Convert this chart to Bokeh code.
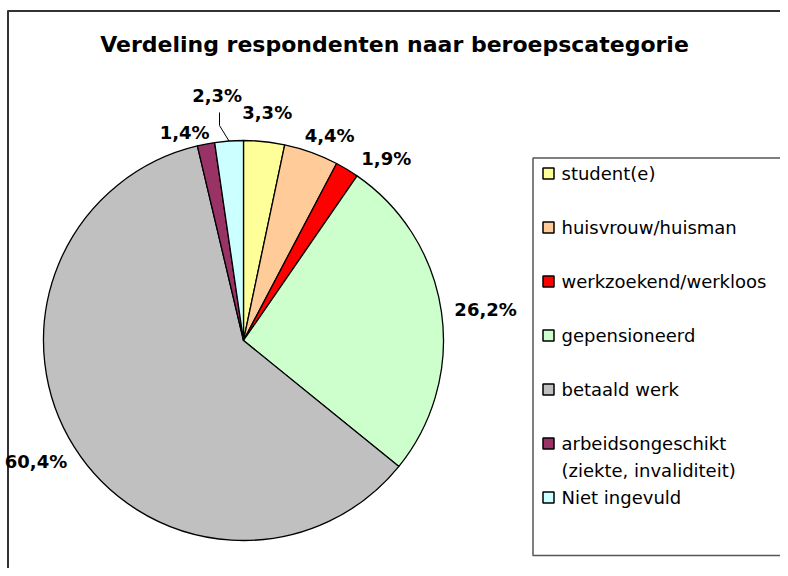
import math
from bokeh.plotting import figure
from bokeh.models import Range1d, ColumnDataSource
from bokeh.core.properties import value
from bokeh.embed import file_html
from bokeh.resources import INLINE

# ---- data ----
categories = ["student(e)", "huisvrouw/huisman", "werkzoekend/werkloos",
              "gepensioneerd", "betaald werk",
              "arbeidsongeschikt\n(ziekte, invaliditeit)", "Niet ingevuld"]
percentages = [3.3, 4.4, 1.9, 26.2, 60.4, 1.4, 2.3]
colors = ["#FFFF99", "#FFCC99", "#FF0000", "#CCFFCC", "#C0C0C0", "#993366", "#CCFFFF"]
title_text = "Verdeling respondenten naar beroepscategorie"

# ---- layout (screen pixel helpers) ----
W, H = 780, 568
def sx(x):
    return x
def sy(y):
    return H - y

p = figure(width=W, height=H, output_backend="svg", toolbar_location=None,
           x_range=Range1d(0, W), y_range=Range1d(0, H), min_border=0)
p.axis.visible = False
p.grid.visible = False
p.outline_line_color = None
p.background_fill_color = "white"

FONT = "DejaVu Sans"

# outer chart border (left and top visible)
p.segment(x0=[sx(7.5), sx(7)], y0=[sy(10), sy(10.5)],
          x1=[sx(7.5), sx(W)], y1=[sy(H), sy(10.5)],
          line_color="#333333", line_width=2)

# title
p.text(x=[sx(394)], y=[sy(44)], text=[title_text], text_font=value(FONT),
       text_font_style="bold", text_font_size="22px", text_align="center",
       text_baseline="middle", text_color="black")

# pie
cx, cy, r = 243, 340, 200
total = sum(percentages)
starts, ends, mids = [], [], []
cum = 0.0
for v in percentages:
    a0 = cum / total
    cum += v
    a1 = cum / total
    starts.append(math.pi / 2 - 2 * math.pi * a0)
    ends.append(math.pi / 2 - 2 * math.pi * a1)
    mids.append(2 * math.pi * (a0 + a1) / 2)  # clockwise from top
src = ColumnDataSource(dict(start=starts, end=ends, color=colors))
p.wedge(x=sx(cx), y=sy(cy), radius=r, start_angle="start", end_angle="end",
        direction="clock", fill_color="color", line_color="black", line_width=1.3,
        source=src)

# data labels
label_r = [229, 222, 231, 244, 240, 216, 246]
label_da = [0, 3, 7, 1, 2, -5, -2]
lx, ly, lt = [], [], []
for i, v in enumerate(percentages):
    th = mids[i] + math.radians(label_da[i])
    lx.append(sx(cx + label_r[i] * math.sin(th)))
    ly.append(sy(cy - label_r[i] * math.cos(th)))
    lt.append(("%.1f%%" % v).replace(".", ","))
p.text(x=lx, y=ly, text=lt, text_font=value(FONT), text_font_style="bold",
       text_font_size="18px", text_align="center", text_baseline="middle",
       text_color="black")

# leader line for last small slice
th = mids[6]
ex, ey = cx + r * math.sin(th), cy - r * math.cos(th)
p.line(x=[sx(ex), sx(219), sx(219)], y=[sy(ey), sy(125), sy(112)],
       line_color="black", line_width=1)

# legend box (its right edge lies outside the picture)
p.quad(left=[sx(532.5)], right=[sx(W + 60)], top=[sy(157.5)], bottom=[sy(555)],
       fill_color=None, line_color="#555555", line_width=1.5)
step = 54
for i, cat in enumerate(categories):
    yc = 173 + i * step
    p.rect(x=sx(548), y=sy(yc), width=11, height=11, fill_color=colors[i],
           line_color="black", line_width=1.5)
    for j, line in enumerate(cat.split("\n")):
        p.text(x=[sx(561)], y=[sy(yc + j * 27)], text=[line], text_font=value(FONT),
               text_font_size="18px", text_align="left", text_baseline="middle",
               text_color="black")

open("out.html", "w").write(file_html(p, INLINE))
